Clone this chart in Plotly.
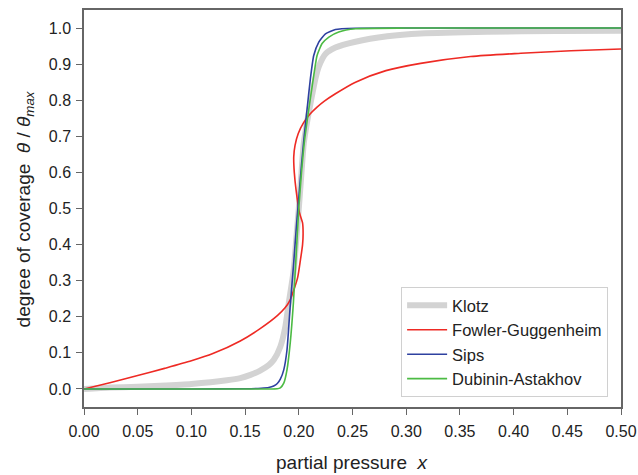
import plotly.graph_objects as go

# ---- data ----
klotz_x = [0.0, 0.024, 0.05, 0.071, 0.1, 0.133, 0.1455, 0.155, 0.164, 0.172, 0.1766, 0.1828,
           0.1875, 0.1906, 0.1953, 0.1975, 0.2, 0.2025, 0.2046, 0.2077, 0.2108, 0.2155, 0.2186,
           0.2248, 0.2341, 0.2528, 0.2823, 0.3134, 0.3756, 0.44, 0.5]
klotz_y = [0.0, 0.004, 0.006, 0.009, 0.014, 0.024, 0.030, 0.039, 0.051, 0.066, 0.08, 0.117,
           0.173, 0.237, 0.33, 0.41, 0.5, 0.6, 0.68, 0.74, 0.79, 0.86, 0.893,
           0.928, 0.946, 0.962, 0.977, 0.985, 0.990, 0.9915, 0.9926]

fowler_x = [0.0, 0.025, 0.05, 0.075, 0.1, 0.12, 0.1455, 0.164, 0.18, 0.187, 0.192, 0.196,
            0.199, 0.2015, 0.2035, 0.204, 0.2035, 0.2005, 0.1975, 0.1958, 0.1953, 0.1965,
            0.1995, 0.2045, 0.2105, 0.217, 0.2235, 0.2341, 0.2528, 0.2811, 0.3134, 0.36,
            0.4067, 0.4534, 0.5]
fowler_y = [0.0, 0.018, 0.037, 0.057, 0.078, 0.098, 0.133, 0.167, 0.203, 0.224, 0.247, 0.28,
            0.31, 0.357, 0.40, 0.43, 0.46, 0.49, 0.55, 0.60, 0.643, 0.675,
            0.708, 0.738, 0.762, 0.781, 0.797, 0.818, 0.850, 0.882, 0.902, 0.921,
            0.930, 0.937, 0.942]

sips_x = [0.0, 0.1, 0.15, 0.165, 0.172, 0.1766, 0.18, 0.1828, 0.186, 0.189, 0.192, 0.195,
          0.198, 0.2, 0.2025, 0.205, 0.2077, 0.2108, 0.2139, 0.2186, 0.2248, 0.2341, 0.2528,
          0.3, 0.5]
sips_y = [0.0, 0.0, 0.0005, 0.002, 0.004, 0.008, 0.015, 0.027, 0.053, 0.108, 0.23, 0.34,
          0.46, 0.53, 0.62, 0.70, 0.775, 0.86, 0.924, 0.961, 0.984, 0.996, 0.9995,
          1.0, 1.0]

da_x = [0.0, 0.1, 0.17, 0.18, 0.1828, 0.186, 0.189, 0.192, 0.195, 0.1975, 0.2, 0.2025,
        0.205, 0.2093, 0.214, 0.217, 0.2217, 0.228, 0.2372, 0.2528, 0.3, 0.5]
da_y = [0.0, 0.0, 0.0, 0.0005, 0.003, 0.016, 0.053, 0.127, 0.24, 0.37, 0.5, 0.6,
        0.68, 0.775, 0.87, 0.924, 0.957, 0.975, 0.989, 0.998, 1.0, 1.0]

x_ticks = [0.0, 0.05, 0.10, 0.15, 0.20, 0.25, 0.30, 0.35, 0.40, 0.45, 0.50]
y_ticks = [0.0, 0.1, 0.2, 0.3, 0.4, 0.5, 0.6, 0.7, 0.8, 0.9, 1.0]

FONT = "Liberation Sans, Arial, sans-serif"
TXT = "#222222"
fig = go.Figure()
fig.add_trace(go.Scatter(x=klotz_x, y=klotz_y, mode="lines", name="Klotz",
                         line=dict(color="#d3d3d3", width=6, shape="spline", smoothing=0.6)))
fig.add_trace(go.Scatter(x=fowler_x, y=fowler_y, mode="lines", name="Fowler-Guggenheim",
                         line=dict(color="#ee2a24", width=1.6, shape="spline", smoothing=0.7)))
fig.add_trace(go.Scatter(x=sips_x, y=sips_y, mode="lines", name="Sips",
                         line=dict(color="#2e41a0", width=1.6, shape="spline", smoothing=0.5)))
fig.add_trace(go.Scatter(x=da_x, y=da_y, mode="lines", name="Dubinin-Astakhov",
                         line=dict(color="#4cbb44", width=1.6, shape="spline", smoothing=0.5)))

axis_common = dict(showgrid=False, zeroline=False, showline=True, linecolor="#666666",
                   linewidth=1.5, mirror=True, ticks="outside", ticklen=6, tickwidth=1.2,
                   tickcolor="#666666", automargin=False,
                   tickfont=dict(family=FONT, size=16, color=TXT))
fig.update_xaxes(range=[0, 0.5], tickvals=x_ticks, tickformat=".2f",
                 ticklabelstandoff=3, **axis_common)
fig.update_yaxes(range=[-0.05, 1.05], tickvals=y_ticks, tickformat=".1f",
                 ticklabelstandoff=2, **axis_common)

# axis titles as annotations (paper coords relative to plot area)
fig.add_annotation(text="partial pressure\u00a0\u00a0<i>x</i>", xref="paper", yref="paper",
                   x=0.5, y=-0.141, xanchor="center", yanchor="middle", showarrow=False,
                   font=dict(family=FONT, size=19, color=TXT))
fig.add_annotation(text="degree of coverage\u00a0\u00a0<i>θ</i> / <i>θ</i><sub><i>max</i></sub>",
                   xref="paper", yref="paper", x=-0.11, y=0.5, xanchor="center",
                   yanchor="middle", textangle=-90, showarrow=False,
                   font=dict(family=FONT, size=19, color=TXT))

fig.update_layout(
    width=638, height=475,
    margin=dict(l=84, r=17, t=10, b=68),
    plot_bgcolor="white", paper_bgcolor="white",
    font=dict(family=FONT, color=TXT),
    legend=dict(x=0.976, y=0.025, xanchor="right", yanchor="bottom",
                bordercolor="#d0d0d0", borderwidth=1, bgcolor="white",
                font=dict(family=FONT, size=16.5, color=TXT),
                tracegroupgap=0, itemwidth=40),
)
# remove the default page margin so the figure sits at the window origin
fig.write_html("out.html", config={"displayModeBar": False},
               post_script="document.body.style.margin='0';document.body.style.overflow='hidden';")
